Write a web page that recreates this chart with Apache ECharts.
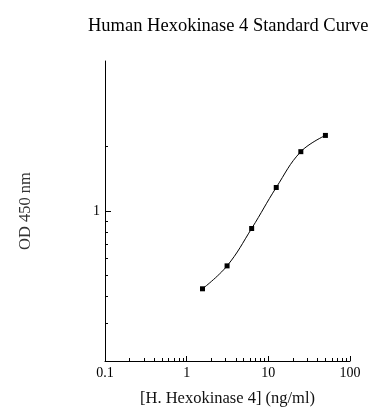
<!DOCTYPE html>
<html>
<head>
<meta charset="utf-8">
<script src="https://cdn.jsdelivr.net/npm/echarts@6/dist/echarts.min.js"></script>
<style>html,body{margin:0;padding:0;background:#fff}#c{width:392px;height:420px}</style>
</head>
<body>
<div id="c"></div>
<script>
const concentrations = [1.5625, 3.125, 6.25, 12.5, 25, 50];
const odValues = [0.434, 0.555, 0.829, 1.287, 1.89, 2.25];
const xMajorTicks = [0.1, 1, 10, 100];
const xMinorTicks = [0.2,0.3,0.4,0.5,0.6,0.7,0.8,0.9,2,3,4,5,6,7,8,9,20,30,40,50,60,70,80,90];
const yMajorTicks = [1];
const yMinorTicks = [0.3,0.4,0.5,0.6,0.7,0.8,0.9,2];
const titleText = 'Human Hexokinase 4 Standard Curve';
const xName = '[H. Hexokinase 4] (ng/ml)';
const yName = 'OD 450 nm';

const font = 'Liberation Serif';
const gridBox = {left: 105, right: 42, top: 61, bottom: 59};
const chart = echarts.init(document.getElementById('c'), null, {renderer: 'canvas'});
chart.setOption({
  animation: false,
  backgroundColor: '#fff',
  title: {text: titleText, left: 83, top: 12, textStyle: {fontFamily: font, fontSize: 18.5, fontWeight: 'normal', color: '#000'}},
  grid: [Object.assign({}, gridBox), Object.assign({}, gridBox)],
  xAxis: [{
    type: 'log', logBase: 10, min: 0.1, max: 100, gridIndex: 0,
    axisLine: {show: true, lineStyle: {color: '#000', width: 1}},
    axisTick: {show: true, inside: true, length: 5, customValues: xMajorTicks, lineStyle: {color: '#000'}},
    axisLabel: {customValues: xMajorTicks, margin: 5, fontFamily: font, fontSize: 14, color: '#000', formatter: v => String(v)},
    splitLine: {show: false},
    name: xName, nameLocation: 'middle', nameGap: 29,
    nameTextStyle: {fontFamily: font, fontSize: 16.5, color: '#111'}
  }, {
    type: 'log', logBase: 10, min: 0.1, max: 100, gridIndex: 1,
    axisLine: {show: false},
    axisTick: {show: true, inside: true, length: 3, customValues: xMinorTicks, lineStyle: {color: '#000'}},
    axisLabel: {show: false},
    splitLine: {show: false}
  }],
  yAxis: [{
    type: 'log', logBase: 10, min: 0.2, max: 5, gridIndex: 0,
    axisLine: {show: true, lineStyle: {color: '#000', width: 1}},
    axisTick: {show: true, inside: true, length: 6, customValues: yMajorTicks, lineStyle: {color: '#000'}},
    axisLabel: {customValues: yMajorTicks, margin: 5, fontFamily: font, fontSize: 14, color: '#000', formatter: v => String(v)},
    splitLine: {show: false},
    name: yName, nameLocation: 'middle', nameGap: 71,
    nameTextStyle: {fontFamily: font, fontSize: 16.5, color: '#333'}
  }, {
    type: 'log', logBase: 10, min: 0.2, max: 5, gridIndex: 1,
    axisLine: {show: false},
    axisTick: {show: true, inside: true, length: 3, customValues: yMinorTicks, lineStyle: {color: '#000'}},
    axisLabel: {show: false},
    splitLine: {show: false}
  }],
  series: [{
    type: 'line', xAxisIndex: 0, yAxisIndex: 0,
    data: concentrations.map((c, i) => [c, odValues[i]]),
    smooth: 0.4, symbol: 'rect', symbolSize: 5,
    itemStyle: {color: '#000'},
    lineStyle: {color: '#000', width: 1}
  }]
});
</script>
</body>
</html>
